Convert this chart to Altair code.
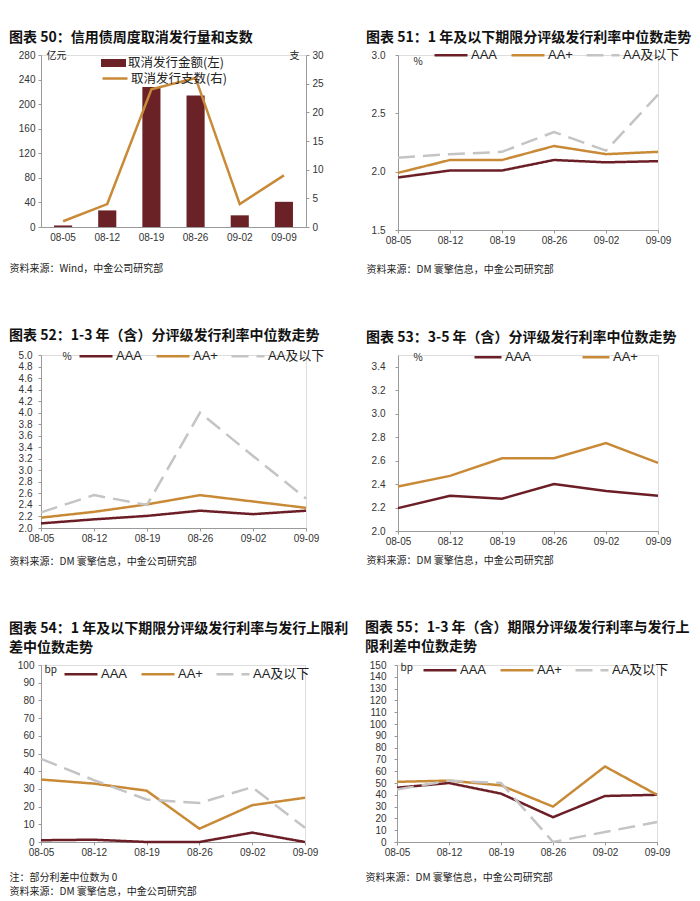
import altair as alt
import pandas as pd

dates = ["08-05", "08-12", "08-19", "08-26", "09-02", "09-09"]
grades3 = ["AAA", "AA+", "AA及以下"]
grades2 = ["AAA", "AA+"]

amount_label = "取消发行金额(左)"
count_label = "取消发行支数(右)"
cancel_amount = [2.5, 27, 228, 214, 19, 41]
cancel_count = [1, 4, 24, 26, 4, 9]

r51_aaa = [1.95, 2.01, 2.01, 2.10, 2.08, 2.09]
r51_aap = [1.99, 2.10, 2.10, 2.22, 2.15, 2.17]
r51_aa = [2.12, 2.15, 2.17, 2.34, 2.18, 2.66]

r52_aaa = [2.08, 2.15, 2.21, 2.30, 2.24, 2.30]
r52_aap = [2.18, 2.28, 2.41, 2.57, 2.46, 2.35]
r52_aa = [2.27, 2.57, 2.40, 4.00, 3.25, 2.51]

r53_aaa = [2.195, 2.30, 2.275, 2.40, 2.34, 2.30]
r53_aap = [2.38, 2.47, 2.62, 2.62, 2.75, 2.58]

s54_aaa = [1, 1.3, 0, 0, 5.3, 0]
s54_aap = [35.3, 33, 29, 7.5, 20.8, 25]
s54_aa = [47, 35, 24, 22, 31, 8]

s55_aaa = [46, 50, 41, 21, 39, 40]
s55_aap = [51, 52, 48, 30, 64, 40]
s55_aa = [44.5, 52, 50, 0, 8.5, 17]

titles = {
    50: "图表 50：信用债周度取消发行量和支数",
    51: "图表 51：1 年及以下期限分评级发行利率中位数走势",
    52: "图表 52：1-3 年（含）分评级发行利率中位数走势",
    53: "图表 53：3-5 年（含）分评级发行利率中位数走势",
    54: ["图表 54：1 年及以下期限分评级发行利率与发行上限利", "差中位数走势"],
    55: ["图表 55：1-3 年（含）期限分评级发行利率与发行上", "限利差中位数走势"],
}
src_wind = "资料来源：Wind，中金公司研究部"
src_dm = "资料来源：DM 寰擎信息，中金公司研究部"
note54 = "注：部分利差中位数为 0"

MAROON = "#6b1e25"
BAR = "#6a2226"
ORANGE = "#c98a38"
GRAY = "#c4c4c4"
CJK = "Noto Sans CJK SC"
LAT = "Liberation Sans"
AXC = "#9a9a9a"
SOLID = [1, 0]
DASH = [17, 8]


def long_df(names, vals):
    rows = []
    for name, vs in zip(names, vals):
        for d, v in zip(dates, vs):
            rows.append({"date": d, "grade": name, "value": v})
    return pd.DataFrame(rows)


def x_axis(source, src_x, src_y, ticks=True, lpad=2):
    return alt.Axis(
        title=source, titleAlign="left", titleBaseline="top", titleX=src_x, titleY=src_y,
        titleFont=CJK, titleFontSize=10, titleFontWeight="normal", titleColor="#222",
        titleLineHeight=14, labelAngle=0, labelFont=LAT, labelFontSize=10,
        labelColor="#333", labelPadding=lpad, ticks=ticks, tickSize=3, tickColor=AXC,
        domainColor=AXC, grid=False,
    )


def y_axis(unit, ux, uy, values, fmt, orient="left", ualign="left", lpad=3):
    return alt.Axis(
        orient=orient, values=values, format=fmt, title=unit, titleAngle=0,
        titleX=ux, titleY=uy, titleAlign=ualign, titleBaseline="middle",
        titleFont=CJK, titleFontSize=10, titleFontWeight="normal", titleColor="#222",
        labelFont=LAT, labelFontSize=10, labelColor="#333", labelPadding=lpad,
        labelOverlap=False, tickSize=3, tickColor=AXC, domainColor=AXC, grid=False,
    )


def title_params(text, dx, offset):
    return alt.TitleParams(
        text=text, anchor="start", frame="group", dx=dx, offset=offset,
        baseline="bottom", font=CJK, fontSize=14, fontWeight="bold",
        color="#111", lineHeight=19,
    )


def line_legend(lx, ly, pad, symlen):
    return alt.Legend(
        orient="none", legendX=lx, legendY=ly, direction="horizontal", title=None,
        symbolType="stroke", symbolSize=symlen * symlen, symbolStrokeWidth=2.5,
        labelFont=LAT + ", " + CJK, labelFontSize=13, labelColor="#222",
        labelOffset=2, columnPadding=pad,
    )


def line_panel(title, tdx, toff, names, vals, colors, dashes, ydom, yvals, yfmt,
               unit, ux, uy, lpad, w, h, source, src_y, lx, ly, pad, symlen):
    df = long_df(names, vals)
    leg = line_legend(lx, ly, pad, symlen)
    enc = dict(
        x=alt.X("date:N", sort=dates, scale=alt.Scale(type="point", padding=0),
                axis=x_axis(source, tdx, src_y)),
        y=alt.Y("value:Q", scale=alt.Scale(domain=ydom, nice=False, zero=False),
                axis=y_axis(unit, ux, uy, yvals, yfmt, lpad=lpad)),
        color=alt.Color("grade:N", sort=names,
                        scale=alt.Scale(domain=names, range=colors), legend=leg),
    )
    if dashes is not None:
        enc["strokeDash"] = alt.StrokeDash("grade:N", sort=names,
                                           scale=alt.Scale(domain=names, range=dashes),
                                           legend=leg)
    return (
        alt.Chart(df).mark_line(strokeWidth=2.5)
        .encode(**enc)
        .properties(width=w, height=h, title=title_params(title, tdx, toff))
    )


# ---- Panel 50: bars + line, dual axis
df50 = pd.DataFrame({"date": dates, "amount": cancel_amount, "count": cancel_count,
                     "s1": [amount_label] * len(dates), "s2": [count_label] * len(dates)})
x50 = alt.X("date:N", sort=dates,
            scale=alt.Scale(type="band", paddingInner=0.59, paddingOuter=0.295),
            axis=x_axis(src_wind, -32, 36, ticks=False, lpad=5))
bars50 = alt.Chart(df50).mark_bar().encode(
    x=x50,
    y=alt.Y("amount:Q", scale=alt.Scale(domain=[0, 280], nice=False),
            axis=y_axis("亿元", 5, 0, list(range(0, 281, 40)), "d", lpad=3)),
    fill=alt.Fill("s1:N", scale=alt.Scale(domain=[amount_label], range=[BAR]),
                  legend=alt.Legend(orient="none", legendX=60, legendY=-4.5, title=None,
                                    symbolType="M-1,-0.32H1V0.32H-1Z", symbolSize=625,
                                    symbolStrokeWidth=0, labelFont=CJK, labelFontSize=12.5,
                                    labelColor="#222", labelOffset=2)),
)
line50 = alt.Chart(df50).mark_line(strokeWidth=2.5).encode(
    x=x50,
    y=alt.Y("count:Q", scale=alt.Scale(domain=[0, 30], nice=False),
            axis=y_axis("支", -7, 0, list(range(0, 31, 5)), "d", orient="right",
                        ualign="right", lpad=3)),
    stroke=alt.Stroke("s2:N", scale=alt.Scale(domain=[count_label], range=[ORANGE]),
                      legend=alt.Legend(orient="none", legendX=60, legendY=9.5, title=None,
                                        symbolType="stroke", symbolSize=625,
                                        symbolStrokeWidth=2.5, labelFont=CJK,
                                        labelFontSize=12.5, labelColor="#222",
                                        labelOffset=2)),
)
p50 = (alt.layer(bars50, line50)
       .resolve_scale(y="independent")
       .properties(width=265, height=172, title=title_params(titles[50], -32, -8.5)))

ticks_51 = [1.5, 2.0, 2.5, 3.0]
ticks_52 = [round(2.0 + 0.2 * i, 1) for i in range(16)]
ticks_53 = [round(2.0 + 0.2 * i, 1) for i in range(8)]
ticks_54 = list(range(0, 101, 10))
ticks_55 = list(range(0, 151, 10))

p51 = line_panel(titles[51], -32, -21.75, grades3, [r51_aaa, r51_aap, r51_aa],
                 [MAROON, ORANGE, GRAY], [SOLID, SOLID, DASH], [1.5, 3.0], ticks_51, ".1f",
                 "%", 15, 6, 10, 260, 175, src_dm, 34, 35, -17.75, 8, 33)
p52 = line_panel(titles[52], -32, -18.25, grades3, [r52_aaa, r52_aap, r52_aa],
                 [MAROON, ORANGE, GRAY], [SOLID, SOLID, DASH], [2.0, 5.0], ticks_52, ".1f",
                 "%", 21, 1, 6, 265, 173, src_dm, 28, 37, -16.75, 8, 33)
p53 = line_panel(titles[53], -32, -16.75, grades2, [r53_aaa, r53_aap],
                 [MAROON, ORANGE], None, [2.0, 3.5], ticks_53, ".1f",
                 "%", 15, 2, 10, 260, 176, src_dm, 24, 75, -12.75, 45, 27)
p54 = line_panel(titles[54], -32, -12.75, grades3, [s54_aaa, s54_aap, s54_aa],
                 [MAROON, ORANGE, GRAY], [SOLID, SOLID, DASH], [0, 100], ticks_54, "d",
                 "bp", 3, 4, 4, 264, 177, [note54, src_dm], 30, 22, -8.75, 8, 33)
p55 = line_panel(titles[55], -32, -15.75, grades3, [s55_aaa, s55_aap, s55_aa],
                 [MAROON, ORANGE, GRAY], [SOLID, SOLID, DASH], [0, 150], ticks_55, "d",
                 "bp", 3, 2, 8, 260, 177, src_dm, 30, 25, -12.75, 8, 33)

IND = dict(color="independent", strokeDash="independent", fill="independent",
           stroke="independent")


def row(a, b):
    return (alt.hconcat(a, b, spacing=92, bounds="flush")
            .resolve_scale(x="independent", y="independent", **IND)
            .resolve_legend(**IND))


chart = (
    alt.vconcat(row(p50, p51), row(p52, p53), row(p54, p55), spacing=53, bounds="full")
    .resolve_scale(x="independent", y="independent", **IND)
    .resolve_legend(**IND)
    .properties(padding={"left": 0, "top": 22, "right": 0, "bottom": 0})
    .configure_view(stroke=None)
    .configure(background="white")
)

chart.save("out.html", embed_options={"renderer": "svg", "actions": False})
